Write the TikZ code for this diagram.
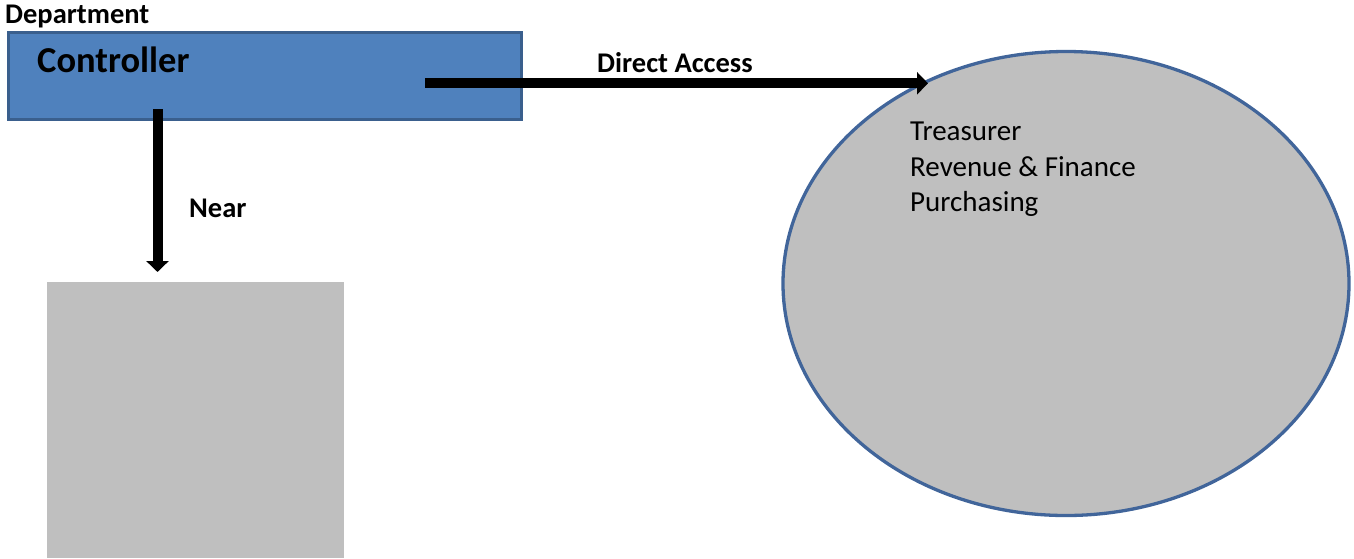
\documentclass[tikz,border=0pt]{standalone}
\usepackage{fontspec}
\setmainfont{Carlito}
\usetikzlibrary{arrows.meta,shapes.geometric}
\definecolor{boxblue}{HTML}{4F81BD}
\definecolor{boxedge}{HTML}{3A5F8D}
\definecolor{ovaledge}{HTML}{41659A}
\definecolor{panelgray}{HTML}{BFBFBF}
\tikzset{
  lbl/.style={font=\fontsize{28.5}{34}\selectfont\bfseries, inner sep=0pt, anchor=base west},
  plain/.style={font=\fontsize{29}{35.5}\selectfont, inner sep=0pt, anchor=base west},
  bigarrow/.style={line width=10pt, -{Triangle[width=22pt,length=11pt]}},
}
\begin{document}
\begin{tikzpicture}[x=1pt,y=-1pt]
\useasboundingbox (0,0) rectangle (1354,558);
% gray square
\fill[panelgray] (47,282) rectangle (344,558);
% oval
\node[draw=ovaledge, line width=3.3pt, fill=panelgray, ellipse, minimum width=566pt, minimum height=464pt, inner sep=0pt] (oval) at (1066,283.5) {};
% controller box
\node[draw=boxedge, line width=3pt, fill=boxblue, rectangle, minimum width=513pt, minimum height=87pt, inner sep=0pt, anchor=north west] (ctrl) at (6.5,31) {};
\node[lbl] (dept) at (5,23) {Department};
\node[font=\fontsize{36.5}{44}\selectfont\bfseries, inner sep=0pt, anchor=base west] (ctrltxt) at (37,72) {Controller};
\coordinate (hstart) at (425,83.3);
\coordinate (hend) at (928,83.3);
\coordinate (vstart) at (157.5,109);
\coordinate (vend) at (157.5,272);
\draw[bigarrow] (hstart) -- (hend);
\draw[bigarrow] (vstart) -- (vend);
\node[lbl] (direct) at (597,72.7) {Direct Access};
\node[lbl] (near) at (189,217) {Near};
\node[plain] (t1) at (910,140.7) {Treasurer};
\node[plain] (t2) at (910,176.2) {Revenue \& Finance};
\node[plain] (t3) at (910,211.7) {Purchasing};
\end{tikzpicture}
\end{document}
